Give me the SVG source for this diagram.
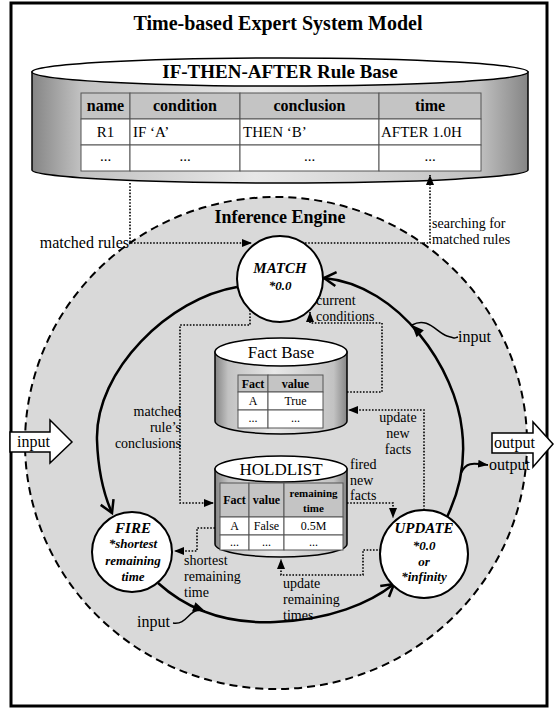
<svg xmlns="http://www.w3.org/2000/svg" width="554" height="710" viewBox="0 0 554 710">
<style>
.t{font-family:"Liberation Serif","Times New Roman",serif;fill:#000}
.lbl{font-size:14px}
.b{font-weight:bold}
.bi{font-weight:bold;font-style:italic}
.dot{fill:none;stroke:#000;stroke-width:1.6;stroke-dasharray:1.6 1.6}
.arc{fill:none;stroke:#000;stroke-width:2.5}
.node{fill:#fff;stroke:#000;stroke-width:2}
.cyl{fill:url(#cyl);stroke:#000;stroke-width:1.5}
.lid{fill:#fff;stroke:#000;stroke-width:1.5}
.hdr{fill:#c4c4c4;stroke:#555;stroke-width:1}
.cell{fill:#fff;stroke:#555;stroke-width:1}
.blk{fill:#fff;stroke:#000;stroke-width:1.5}
</style>
<defs>
<linearGradient id="cyl" x1="0" y1="0" x2="1" y2="0">
<stop offset="0" stop-color="#858585"/>
<stop offset="0.1" stop-color="#c2c2c2"/>
<stop offset="0.45" stop-color="#e8e8e8"/>
<stop offset="0.9" stop-color="#c2c2c2"/>
<stop offset="1" stop-color="#858585"/>
</linearGradient>
<marker id="open" markerUnits="userSpaceOnUse" markerWidth="16" markerHeight="16" refX="13" refY="7" orient="auto" overflow="visible"><path d="M1,0 L13,7 L1,14" fill="none" stroke="#000" stroke-width="2.5"/></marker>
<marker id="fill" markerUnits="userSpaceOnUse" markerWidth="10" markerHeight="8" refX="10" refY="4" orient="auto"><path d="M0,0 L10,4 L0,8 Z" fill="#000"/></marker>
</defs>

<rect x="11" y="3" width="536" height="703" fill="#fff" stroke="#000" stroke-width="3"/>
<text class="t b" x="278" y="30" font-size="20" text-anchor="middle">Time-based Expert System Model</text>

<g id="inference-engine">
<ellipse cx="276" cy="443" rx="251" ry="246" fill="#d9d9d9" stroke="#000" stroke-width="2" stroke-dasharray="8 5"/>
<text class="t b" x="280" y="223" font-size="18" text-anchor="middle">Inference Engine</text>
</g>

<g id="rule-base">
<path class="cyl" d="M32,72 L32,170 A248,13 0 0 0 528,170 L528,72 Z"/>
<ellipse class="lid" cx="280" cy="72" rx="248" ry="14"/>
<text class="t b" x="280" y="78" font-size="19" text-anchor="middle">IF-THEN-AFTER Rule Base</text>
<rect class="hdr" x="81" y="93" width="49" height="26"/>
<rect class="hdr" x="130" y="93" width="110" height="26"/>
<rect class="hdr" x="240" y="93" width="139" height="26"/>
<rect class="hdr" x="379" y="93" width="102" height="26"/>
<rect class="cell" x="81" y="119" width="49" height="26"/>
<rect class="cell" x="130" y="119" width="110" height="26"/>
<rect class="cell" x="240" y="119" width="139" height="26"/>
<rect class="cell" x="379" y="119" width="102" height="26"/>
<rect class="cell" x="81" y="145" width="49" height="26"/>
<rect class="cell" x="130" y="145" width="110" height="26"/>
<rect class="cell" x="240" y="145" width="139" height="26"/>
<rect class="cell" x="379" y="145" width="102" height="26"/>
<g class="t b" font-size="16" text-anchor="middle">
<text x="105.5" y="111">name</text><text x="185" y="111">condition</text><text x="309.5" y="111">conclusion</text><text x="430" y="111">time</text>
</g>
<g class="t" font-size="15">
<text x="105.5" y="137" text-anchor="middle">R1</text>
<text x="133" y="137">IF ‘A’</text>
<text x="243" y="137">THEN ‘B’</text>
<text x="381" y="137">AFTER 1.0H</text>
<text x="105.5" y="161" text-anchor="middle">...</text>
<text x="185" y="161" text-anchor="middle">...</text>
<text x="309.5" y="161" text-anchor="middle">...</text>
<text x="430" y="161" text-anchor="middle">...</text>
</g>
</g>

<g id="fact-base">
<path class="cyl" d="M215,352 L215,421 A66,13 0 0 0 347,421 L347,352 Z"/>
<ellipse class="lid" cx="281" cy="352" rx="66" ry="14"/>
<text class="t" x="281" y="358" font-size="17" text-anchor="middle">Fact Base</text>
<rect class="hdr" x="238" y="375" width="30" height="17"/>
<rect class="hdr" x="268" y="375" width="55" height="17"/>
<rect class="cell" x="238" y="392" width="30" height="18"/>
<rect class="cell" x="268" y="392" width="55" height="18"/>
<rect class="cell" x="238" y="410" width="30" height="18"/>
<rect class="cell" x="268" y="410" width="55" height="18"/>
<g class="t" text-anchor="middle" font-size="12">
<text class="b" x="253" y="388">Fact</text>
<text class="b" x="295.5" y="388">value</text>
<text x="253" y="405">A</text>
<text x="295.5" y="405">True</text>
<text x="253" y="422">...</text>
<text x="295.5" y="422">...</text>
</g>
</g>

<g id="holdlist">
<path class="cyl" d="M215,469 L215,544 A66,13 0 0 0 347,544 L347,469 Z"/>
<ellipse class="lid" cx="281" cy="469" rx="66" ry="13"/>
<text class="t" x="281" y="475" font-size="17" text-anchor="middle">HOLDLIST</text>
<rect class="hdr" x="220" y="483" width="29" height="34"/>
<rect class="hdr" x="249" y="483" width="35" height="34"/>
<rect class="hdr" x="284" y="483" width="59" height="34"/>
<rect class="cell" x="220" y="517" width="29" height="18"/>
<rect class="cell" x="249" y="517" width="35" height="18"/>
<rect class="cell" x="284" y="517" width="59" height="18"/>
<rect class="cell" x="220" y="535" width="29" height="15"/>
<rect class="cell" x="249" y="535" width="35" height="15"/>
<rect class="cell" x="284" y="535" width="59" height="15"/>
<g class="t" text-anchor="middle" font-size="12">
<text class="b" x="234.5" y="504">Fact</text>
<text class="b" x="266.5" y="504">value</text>
<text class="b" x="313.5" y="497" font-size="11">remaining</text>
<text class="b" x="313.5" y="512" font-size="11">time</text>
<text x="234.5" y="530">A</text>
<text x="266.5" y="530">False</text>
<text x="313.5" y="530">0.5M</text>
<text x="234.5" y="546">...</text>
<text x="266.5" y="546">...</text>
<text x="313.5" y="546">...</text>
</g>
</g>

<g id="connectors">
<path class="arc" d="M237,287 C170,298 95,370 97,440 C98,470 104,495 112,513" marker-end="url(#open)"/>
<path class="arc" d="M158,583 C190,612 230,624 275,622 C330,620 370,603 394,584" marker-end="url(#open)"/>
<path class="arc" d="M447,517 C459,492 466,462 462,430 C456,370 400,285 324,278" marker-end="url(#open)"/>
<path d="M0,0 L-12,-5 L-12,5 Z" transform="translate(412,325) rotate(227)"/>
<path d="M0,0 L-12,-5 L-12,5 Z" transform="translate(205,611) rotate(20)"/>
<path fill="none" stroke="#000" stroke-width="1.5" d="M412,325 C428,316 437,333 447,336 S454,338 458,337"/>
<path fill="none" stroke="#000" stroke-width="1.5" d="M173,623 C186,625 188,612 198,610 L205,611"/>
<path fill="none" stroke="#000" stroke-width="2" d="M461,473 C466,462 472,463 488,465" marker-end="url(#fill)"/>
<path class="dot" d="M130,183 V243 H252" marker-end="url(#fill)"/>
<path class="dot" d="M305,243 H430 V175" marker-end="url(#fill)"/>
<path class="dot" d="M347,392 H382 V323 H310 V312" marker-end="url(#fill)"/>
<path class="dot" d="M250,310 V325 H180 V503 H214" marker-end="url(#fill)"/>
<path class="dot" d="M424,510 V410 H348" marker-end="url(#fill)"/>
<path class="dot" d="M347,503 H393 V518" marker-end="url(#fill)"/>
<path class="dot" d="M215,528 H197 V551 H174" marker-end="url(#fill)"/>
<path class="dot" d="M381,550 H363 V575 H281 V559" marker-end="url(#fill)"/>
</g>

<g id="match">
<circle class="node" cx="280" cy="279" r="43"/>
<text class="t bi" x="280" y="273" font-size="15" text-anchor="middle">MATCH</text>
<text class="t bi" x="280" y="290" font-size="13" text-anchor="middle">*0.0</text>
</g>
<g id="fire">
<circle class="node" cx="132" cy="552" r="40"/>
<text class="t bi" x="133" y="533" font-size="15" text-anchor="middle">FIRE</text>
<text class="t bi" x="133" y="548" font-size="13" text-anchor="middle">*shortest</text>
<text class="t bi" x="133" y="565" font-size="13" text-anchor="middle">remaining</text>
<text class="t bi" x="133" y="581" font-size="13" text-anchor="middle">time</text>
</g>
<g id="update">
<circle class="node" cx="424" cy="554" r="44"/>
<text class="t bi" x="424" y="533" font-size="15" text-anchor="middle">UPDATE</text>
<text class="t bi" x="424" y="550" font-size="13" text-anchor="middle">*0.0</text>
<text class="t bi" x="424" y="566" font-size="13" text-anchor="middle">or</text>
<text class="t bi" x="424" y="581" font-size="13" text-anchor="middle">*infinity</text>
</g>

<g id="labels" class="t lbl">
<text x="129" y="248" text-anchor="end" font-size="16">matched rules</text>
<text x="432" y="228">searching for</text>
<text x="432" y="244">matched rules</text>
<text x="316" y="305">current</text>
<text x="316" y="321">conditions</text>
<text x="181" y="416" text-anchor="end">matched</text>
<text x="181" y="432" text-anchor="end">rule’s</text>
<text x="181" y="448" text-anchor="end">conclusions</text>
<text x="398" y="422" text-anchor="middle">update</text>
<text x="398" y="438" text-anchor="middle">new</text>
<text x="398" y="454" text-anchor="middle">facts</text>
<text x="350" y="469">fired</text>
<text x="350" y="484.5">new</text>
<text x="350" y="500">facts</text>
<text x="184" y="565">shortest</text>
<text x="184" y="581">remaining</text>
<text x="184" y="597">time</text>
<text x="283" y="588">update</text>
<text x="283" y="604">remaining</text>
<text x="283" y="620">times</text>
<text x="458" y="342" font-size="16">input</text>
<text x="137" y="627" font-size="16">input</text>
<text x="489" y="470" font-size="16">output</text>
</g>

<g id="input-arrow">
<path class="blk" d="M10,432 H50 V420 L72,442 L50,463 V452 H10 Z"/>
<text class="t" x="17" y="447" font-size="16">input</text>
</g>
<g id="output-arrow">
<path class="blk" d="M492,433 H533 V422 L553,444 L533,467 V453 H492 Z"/>
<text class="t" x="494" y="448" font-size="16">output</text>
</g>
</svg>
